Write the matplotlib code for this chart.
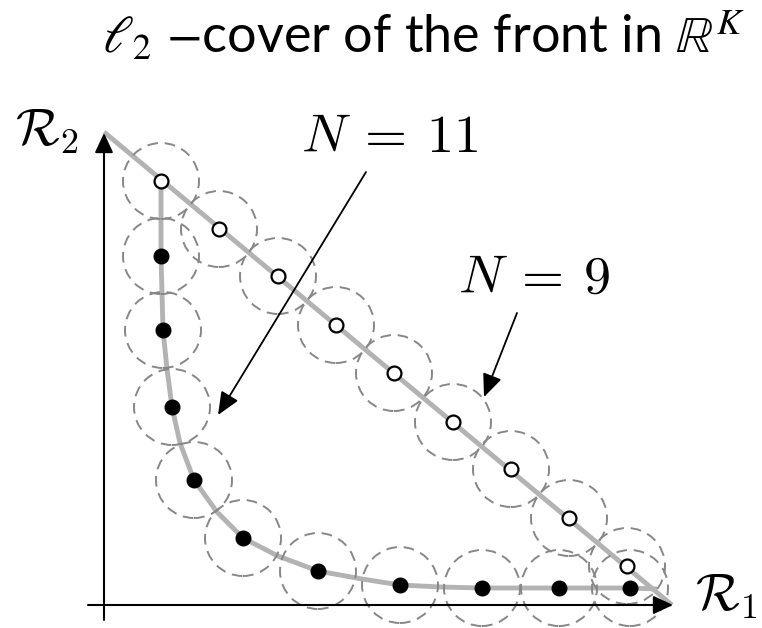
import numpy as np
import matplotlib
matplotlib.use("Agg")
import matplotlib.pyplot as plt
from matplotlib.patches import Circle

# Pareto front in the (R1, R2) plane
front_r1 = [0.57, 0.57, 0.57, 0.58, 0.59, 0.63, 0.68, 0.76, 0.90, 1.13,
            1.39, 1.74, 2.14, 2.58, 2.96, 3.37, 3.78, 4.55, 5.26, 5.53]
front_r2 = [4.24, 3.87, 3.49, 3.12, 2.75, 2.36, 1.98, 1.62, 1.25, 0.93,
            0.67, 0.49, 0.34, 0.26, 0.20, 0.18, 0.17, 0.17, 0.17, 0.16]

# linear front
line_r1 = [0.0, 5.68]
line_r2 = [4.73, 0.0]

# cover centres on the linear front (N = 9)
lin_pts_r1 = [0.57, 1.15, 1.74, 2.32, 2.90, 3.49, 4.07, 4.65, 5.23]
lin_pts_r2 = [4.24, 3.76, 3.29, 2.80, 2.32, 1.83, 1.36, 0.87, 0.39]

# cover centres on the curved front (N = 11, the first one is shared)
cur_pts_r1 = [0.57, 0.59, 0.68, 0.90, 1.39, 2.14, 2.96, 3.78, 4.55, 5.26]
cur_pts_r2 = [3.49, 2.75, 1.98, 1.25, 0.67, 0.34, 0.20, 0.17, 0.17, 0.17]

radius = 0.38

fig = plt.figure(figsize=(7.62, 6.28), dpi=100)
ax = fig.add_axes([0, 0, 1, 1])
ax.set_xlim(-1.04, 6.58)
ax.set_ylim(-0.23, 6.05)
ax.set_aspect("equal")
ax.axis("off")

front_col = "#b3b3b3"
ax.plot(front_r1, front_r2, color=front_col, lw=3.5, solid_capstyle="butt", zorder=1)
ax.plot(line_r1, line_r2, color=front_col, lw=3.5, solid_capstyle="butt", zorder=1)

# dashed l2 balls
for cx, cy in zip(lin_pts_r1 + cur_pts_r1, lin_pts_r2 + cur_pts_r2):
    ax.add_patch(Circle((cx, cy), radius, fill=False, edgecolor="#878787",
                        lw=1.4, ls=(0, (5.5, 3.5)), zorder=2))

ax.plot(cur_pts_r1, cur_pts_r2, "o", color="k", ms=10.5, zorder=4)
ax.plot(lin_pts_r1, lin_pts_r2, "o", mfc="white", mec="k", mew=1.6, ms=10, zorder=4)

# axes with arrow heads
ax_arrow = dict(arrowstyle="-|>,head_length=0.6,head_width=0.28", lw=1.5,
                color="k", shrinkA=0, shrinkB=0, mutation_scale=20)
ax.annotate("", xy=(0.0, 4.72), xytext=(0.0, -0.15), arrowprops=ax_arrow, zorder=3)
ax.annotate("", xy=(5.69, 0.0), xytext=(-0.16, 0.0), arrowprops=ax_arrow, zorder=3)

# labels
ax.text(-0.89, 4.60, r"$\mathcal{R}_2$", fontsize=37, math_fontfamily="cm",
        ha="left", va="baseline")
ax.text(5.91, -0.05, r"$\mathcal{R}_1$", fontsize=37, math_fontfamily="cm",
        ha="left", va="baseline")

lbl_arrow = dict(arrowstyle="-|>,head_length=0.7,head_width=0.3", lw=1.3,
                 color="k", shrinkA=0, shrinkB=0, mutation_scale=20)
ax.annotate("", xy=(1.14, 1.90), xytext=(2.62, 4.33), arrowprops=lbl_arrow, zorder=5)
ax.annotate("", xy=(3.80, 2.08), xytext=(4.13, 2.92), arrowprops=lbl_arrow, zorder=5)
ax.text(2.86, 4.53, r"$N\:=\:11$", fontsize=39, math_fontfamily="cm",
        ha="center", va="baseline")
ax.text(4.30, 3.12, r"$N\:=\:9$", fontsize=39, math_fontfamily="cm",
        ha="center", va="baseline")

ax.text(3.20, 5.52, r"$\ell_2$ $-$cover of the front in $\mathbb{R}^K$",
        fontsize=37.5, family="Lato", math_fontfamily="stix",
        ha="center", va="baseline")

fig.savefig("out.png", dpi=100)
